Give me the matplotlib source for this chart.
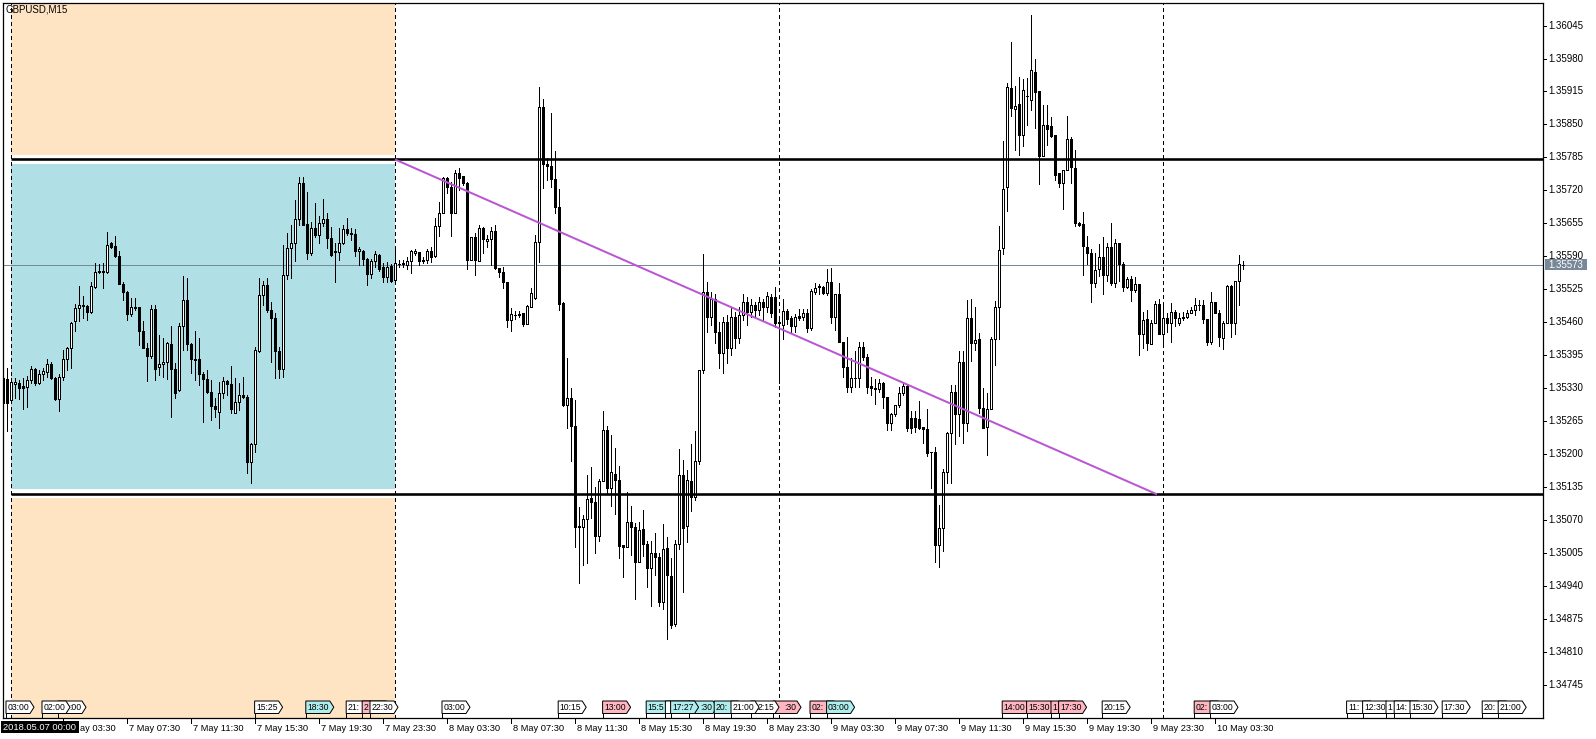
import matplotlib
matplotlib.use("Agg")
import matplotlib.pyplot as plt
from matplotlib.patches import Rectangle, Polygon
from matplotlib.transforms import blended_transform_factory
import numpy as np

plt.rcParams['font.family'] = ['Liberation Sans', 'DejaVu Sans']

# ---------------- data (GBPUSD M15, bar index 0 = 2018.05.07 00:00) ----------------
first_bar = -2

open_ = [
    1.35351, 1.35348, 1.35306, 1.35338, 1.35340, 1.35334, 1.35332, 1.35347, 1.35368, 1.35340, 1.35358, 1.35363,
    1.35378, 1.35350, 1.35309, 1.35352, 1.35387, 1.35409, 1.35462, 1.35488, 1.35492, 1.35493,
    1.35481, 1.35529, 1.35559, 1.35562, 1.35560, 1.35616, 1.35611, 1.35591, 1.35535, 1.35519,
    1.35477, 1.35489, 1.35490, 1.35442, 1.35410, 1.35393, 1.35486, 1.35372, 1.35378, 1.35382,
    1.35417, 1.35368, 1.35326, 1.35453, 1.35504, 1.35417, 1.35386, 1.35387, 1.35358, 1.35348,
    1.35322, 1.35295, 1.35284, 1.35320, 1.35345, 1.35339, 1.35282, 1.35302, 1.35316, 1.35312,
    1.35184, 1.35220, 1.35403, 1.35514, 1.35534, 1.35485, 1.35468, 1.35404, 1.35368, 1.35554,
    1.35607, 1.35616, 1.35663, 1.35734, 1.35654, 1.35596, 1.35646, 1.35632, 1.35655, 1.35663,
    1.35626, 1.35600, 1.35598, 1.35616, 1.35644, 1.35636, 1.35634, 1.35601, 1.35601, 1.35585,
    1.35555, 1.35580, 1.35593, 1.35570, 1.35550, 1.35571, 1.35543, 1.35575, 1.35574, 1.35573,
    1.35580, 1.35597, 1.35598, 1.35580, 1.35583, 1.35601, 1.35591, 1.35650, 1.35675, 1.35744,
    1.35726, 1.35676, 1.35754, 1.35748, 1.35735, 1.35583, 1.35629, 1.35581, 1.35645, 1.35621,
    1.35625, 1.35640, 1.35568, 1.35559, 1.35540, 1.35465, 1.35474, 1.35475, 1.35478, 1.35456,
    1.35491, 1.35507, 1.35618, 1.35884, 1.35773, 1.35768, 1.35742, 1.35688, 1.35499, 1.35298,
    1.35310, 1.35256, 1.35059, 1.35056, 1.35073, 1.35114, 1.35105, 1.35039, 1.35148, 1.35248,
    1.35133, 1.35162, 1.35150, 1.35021, 1.35018, 1.35066, 1.35056, 1.34988, 1.35052, 1.35024,
    1.34976, 1.35005, 1.34997, 1.34909, 1.35015, 1.34960, 1.34865, 1.35024, 1.35159, 1.35059,
    1.35147, 1.35115, 1.35187, 1.35367, 1.35520, 1.35470, 1.35505, 1.35440, 1.35400, 1.35460,
    1.35410, 1.35470, 1.35430, 1.35475, 1.35500, 1.35480, 1.35495, 1.35485, 1.35500, 1.35490,
    1.35509, 1.35510, 1.35461, 1.35455, 1.35482, 1.35468, 1.35453, 1.35472, 1.35471, 1.35478,
    1.35448, 1.35520, 1.35532, 1.35530, 1.35518, 1.35539, 1.35470, 1.35515, 1.35422, 1.35371,
    1.35333, 1.35351, 1.35350, 1.35411, 1.35391, 1.35334, 1.35330, 1.35329, 1.35340, 1.35312,
    1.35262, 1.35279, 1.35297, 1.35321, 1.35334, 1.35271, 1.35271, 1.35269, 1.35253, 1.35249,
    1.35205, 1.35204, 1.35022, 1.35054, 1.35164, 1.35241, 1.35323, 1.35279, 1.35382, 1.35262,
    1.35468, 1.35419, 1.35428, 1.35292, 1.35254, 1.35289, 1.35428, 1.35491, 1.35606, 1.35726,
    1.35921, 1.35880, 1.35890, 1.35829, 1.35906, 1.35899, 1.35954, 1.35915, 1.35788, 1.35849,
    1.35846, 1.35829, 1.35754, 1.35734, 1.35761, 1.35821, 1.35765, 1.35656, 1.35654, 1.35609,
    1.35596, 1.35538, 1.35566, 1.35589, 1.35553, 1.35608, 1.35538, 1.35617, 1.35574, 1.35530,
    1.35545, 1.35524, 1.35535, 1.35436, 1.35466, 1.35417, 1.35459, 1.35496, 1.35436, 1.35468,
    1.35459, 1.35481, 1.35459, 1.35468, 1.35470, 1.35479, 1.35484, 1.35494, 1.35494, 1.35466,
    1.35422, 1.35501, 1.35479, 1.35430, 1.35459, 1.35531, 1.35458, 1.35541, 1.35573,
]

high_ = [
    1.35370, 1.35370, 1.35350, 1.35351, 1.35347, 1.35351, 1.35355, 1.35374, 1.35370, 1.35366, 1.35370, 1.35387,
    1.35381, 1.35353, 1.35358, 1.35406, 1.35412, 1.35460, 1.35496, 1.35531, 1.35511, 1.35494,
    1.35540, 1.35577, 1.35575, 1.35577, 1.35639, 1.35619, 1.35630, 1.35601, 1.35540, 1.35521,
    1.35508, 1.35508, 1.35491, 1.35462, 1.35419, 1.35494, 1.35494, 1.35435, 1.35429, 1.35422,
    1.35452, 1.35380, 1.35458, 1.35552, 1.35547, 1.35420, 1.35442, 1.35429, 1.35363, 1.35366,
    1.35347, 1.35311, 1.35343, 1.35353, 1.35347, 1.35373, 1.35350, 1.35340, 1.35353, 1.35317,
    1.35222, 1.35412, 1.35547, 1.35542, 1.35548, 1.35501, 1.35478, 1.35412, 1.35613, 1.35636,
    1.35652, 1.35701, 1.35747, 1.35746, 1.35716, 1.35657, 1.35696, 1.35670, 1.35703, 1.35676,
    1.35648, 1.35616, 1.35646, 1.35652, 1.35665, 1.35646, 1.35644, 1.35609, 1.35603, 1.35586,
    1.35585, 1.35601, 1.35595, 1.35577, 1.35578, 1.35575, 1.35606, 1.35583, 1.35583, 1.35589,
    1.35602, 1.35605, 1.35599, 1.35589, 1.35605, 1.35609, 1.35665, 1.35698, 1.35747, 1.35746,
    1.35737, 1.35760, 1.35765, 1.35748, 1.35737, 1.35628, 1.35636, 1.35651, 1.35647, 1.35633,
    1.35647, 1.35651, 1.35568, 1.35570, 1.35540, 1.35489, 1.35483, 1.35483, 1.35478, 1.35495,
    1.35527, 1.35633, 1.35924, 1.35900, 1.35783, 1.35872, 1.35798, 1.35722, 1.35500, 1.35390,
    1.35330, 1.35306, 1.35096, 1.35080, 1.35160, 1.35174, 1.35136, 1.35151, 1.35285, 1.35255,
    1.35238, 1.35212, 1.35176, 1.35021, 1.35125, 1.35098, 1.35064, 1.35066, 1.35090, 1.35028,
    1.35028, 1.35045, 1.35005, 1.35063, 1.35036, 1.34996, 1.35031, 1.35211, 1.35189, 1.35169,
    1.35220, 1.35246, 1.35367, 1.35595, 1.35540, 1.35520, 1.35515, 1.35460, 1.35470, 1.35475,
    1.35490, 1.35480, 1.35490, 1.35515, 1.35510, 1.35505, 1.35500, 1.35510, 1.35505, 1.35520,
    1.35516, 1.35530, 1.35470, 1.35505, 1.35487, 1.35472, 1.35476, 1.35487, 1.35487, 1.35487,
    1.35526, 1.35537, 1.35535, 1.35532, 1.35566, 1.35568, 1.35515, 1.35537, 1.35422, 1.35431,
    1.35389, 1.35403, 1.35421, 1.35422, 1.35398, 1.35352, 1.35349, 1.35349, 1.35342, 1.35312,
    1.35282, 1.35297, 1.35332, 1.35342, 1.35336, 1.35285, 1.35285, 1.35304, 1.35253, 1.35290,
    1.35205, 1.35214, 1.35100, 1.35170, 1.35244, 1.35336, 1.35336, 1.35404, 1.35404, 1.35504,
    1.35505, 1.35490, 1.35438, 1.35330, 1.35320, 1.35431, 1.35503, 1.35650, 1.35817, 1.35932,
    1.36013, 1.35925, 1.35943, 1.35940, 1.35941, 1.36066, 1.35980, 1.35915, 1.35888, 1.35888,
    1.35865, 1.35829, 1.35754, 1.35761, 1.35866, 1.35826, 1.35799, 1.35657, 1.35678, 1.35630,
    1.35604, 1.35596, 1.35614, 1.35629, 1.35616, 1.35656, 1.35625, 1.35617, 1.35578, 1.35549,
    1.35551, 1.35550, 1.35535, 1.35481, 1.35485, 1.35465, 1.35502, 1.35506, 1.35495, 1.35478,
    1.35498, 1.35485, 1.35478, 1.35481, 1.35485, 1.35491, 1.35507, 1.35504, 1.35504, 1.35466,
    1.35520, 1.35501, 1.35484, 1.35462, 1.35534, 1.35534, 1.35541, 1.35593, 1.35580,
]

low_ = [
    1.35290, 1.35245, 1.35301, 1.35311, 1.35309, 1.35289, 1.35294, 1.35340, 1.35337, 1.35338, 1.35347, 1.35353,
    1.35348, 1.35306, 1.35286, 1.35347, 1.35366, 1.35370, 1.35442, 1.35462, 1.35468, 1.35464,
    1.35478, 1.35527, 1.35557, 1.35527, 1.35557, 1.35606, 1.35588, 1.35535, 1.35504, 1.35465,
    1.35473, 1.35485, 1.35416, 1.35409, 1.35345, 1.35389, 1.35347, 1.35357, 1.35353, 1.35348,
    1.35274, 1.35311, 1.35324, 1.35406, 1.35406, 1.35360, 1.35347, 1.35337, 1.35263, 1.35320,
    1.35267, 1.35274, 1.35251, 1.35311, 1.35317, 1.35281, 1.35281, 1.35288, 1.35311, 1.35163,
    1.35144, 1.35205, 1.35401, 1.35494, 1.35481, 1.35381, 1.35350, 1.35350, 1.35352, 1.35545,
    1.35547, 1.35580, 1.35652, 1.35652, 1.35585, 1.35593, 1.35628, 1.35616, 1.35650, 1.35606,
    1.35591, 1.35540, 1.35582, 1.35615, 1.35632, 1.35623, 1.35591, 1.35573, 1.35573, 1.35534,
    1.35547, 1.35570, 1.35562, 1.35539, 1.35540, 1.35540, 1.35540, 1.35570, 1.35570, 1.35566,
    1.35558, 1.35592, 1.35573, 1.35576, 1.35576, 1.35579, 1.35588, 1.35630, 1.35675, 1.35714,
    1.35630, 1.35676, 1.35720, 1.35730, 1.35565, 1.35583, 1.35554, 1.35581, 1.35597, 1.35608,
    1.35573, 1.35566, 1.35550, 1.35528, 1.35451, 1.35442, 1.35467, 1.35471, 1.35453, 1.35456,
    1.35490, 1.35505, 1.35579, 1.35725, 1.35740, 1.35726, 1.35675, 1.35484, 1.35296, 1.35252,
    1.35186, 1.35018, 1.34947, 1.34982, 1.34986, 1.35075, 1.35006, 1.35029, 1.35148, 1.35121,
    1.35097, 1.35083, 1.34995, 1.34958, 1.35018, 1.35002, 1.34914, 1.34988, 1.34999, 1.34938,
    1.34901, 1.34961, 1.34900, 1.34895, 1.34835, 1.34858, 1.34861, 1.35013, 1.34929, 1.35027,
    1.35089, 1.35110, 1.35180, 1.35360, 1.35440, 1.35455, 1.35420, 1.35370, 1.35360, 1.35380,
    1.35395, 1.35410, 1.35420, 1.35465, 1.35455, 1.35470, 1.35470, 1.35475, 1.35465, 1.35480,
    1.35470, 1.35451, 1.35340, 1.35428, 1.35456, 1.35439, 1.35440, 1.35464, 1.35465, 1.35440,
    1.35445, 1.35516, 1.35515, 1.35515, 1.35514, 1.35458, 1.35444, 1.35422, 1.35352, 1.35323,
    1.35322, 1.35333, 1.35333, 1.35386, 1.35321, 1.35317, 1.35299, 1.35322, 1.35292, 1.35247,
    1.35248, 1.35276, 1.35293, 1.35316, 1.35245, 1.35241, 1.35244, 1.35250, 1.35223, 1.35196,
    1.35133, 1.34988, 1.34978, 1.35010, 1.35143, 1.35143, 1.35220, 1.35236, 1.35223, 1.35245,
    1.35383, 1.35405, 1.35282, 1.35251, 1.35199, 1.35289, 1.35376, 1.35428, 1.35594, 1.35680,
    1.35867, 1.35799, 1.35790, 1.35808, 1.35849, 1.35878, 1.35843, 1.35732, 1.35788, 1.35809,
    1.35825, 1.35740, 1.35727, 1.35683, 1.35761, 1.35735, 1.35650, 1.35650, 1.35553, 1.35575,
    1.35500, 1.35530, 1.35551, 1.35516, 1.35541, 1.35533, 1.35530, 1.35541, 1.35521, 1.35528,
    1.35502, 1.35520, 1.35395, 1.35410, 1.35406, 1.35417, 1.35459, 1.35436, 1.35415, 1.35441,
    1.35422, 1.35452, 1.35455, 1.35465, 1.35468, 1.35479, 1.35474, 1.35484, 1.35458, 1.35416,
    1.35418, 1.35479, 1.35414, 1.35408, 1.35459, 1.35432, 1.35436, 1.35494, 1.35566,
]

close_ = [
    1.35300, 1.35301, 1.35342, 1.35342, 1.35330, 1.35331, 1.35347, 1.35368, 1.35340, 1.35358, 1.35364, 1.35378,
    1.35350, 1.35309, 1.35352, 1.35387, 1.35409, 1.35458, 1.35488, 1.35494, 1.35494, 1.35481,
    1.35531, 1.35560, 1.35562, 1.35560, 1.35613, 1.35609, 1.35590, 1.35535, 1.35519, 1.35477,
    1.35490, 1.35490, 1.35442, 1.35410, 1.35393, 1.35486, 1.35368, 1.35378, 1.35382, 1.35419,
    1.35368, 1.35320, 1.35453, 1.35504, 1.35417, 1.35387, 1.35387, 1.35358, 1.35348, 1.35322,
    1.35295, 1.35289, 1.35320, 1.35345, 1.35339, 1.35289, 1.35302, 1.35316, 1.35312, 1.35184,
    1.35220, 1.35406, 1.35514, 1.35534, 1.35485, 1.35468, 1.35404, 1.35368, 1.35554, 1.35607,
    1.35616, 1.35663, 1.35734, 1.35652, 1.35596, 1.35646, 1.35632, 1.35655, 1.35663, 1.35626,
    1.35593, 1.35598, 1.35616, 1.35644, 1.35636, 1.35634, 1.35600, 1.35604, 1.35585, 1.35555,
    1.35580, 1.35594, 1.35565, 1.35550, 1.35570, 1.35542, 1.35576, 1.35575, 1.35576, 1.35581,
    1.35600, 1.35601, 1.35580, 1.35583, 1.35601, 1.35589, 1.35650, 1.35675, 1.35744, 1.35726,
    1.35676, 1.35754, 1.35744, 1.35735, 1.35583, 1.35628, 1.35583, 1.35645, 1.35625, 1.35625,
    1.35640, 1.35568, 1.35559, 1.35540, 1.35465, 1.35476, 1.35475, 1.35476, 1.35456, 1.35492,
    1.35517, 1.35618, 1.35884, 1.35773, 1.35768, 1.35742, 1.35688, 1.35497, 1.35298, 1.35310,
    1.35256, 1.35057, 1.35056, 1.35072, 1.35111, 1.35106, 1.35039, 1.35148, 1.35248, 1.35133,
    1.35164, 1.35150, 1.35020, 1.35018, 1.35066, 1.35056, 1.34988, 1.35051, 1.35024, 1.34976,
    1.35005, 1.34997, 1.34909, 1.35013, 1.34962, 1.34863, 1.35024, 1.35159, 1.35055, 1.35149,
    1.35115, 1.35187, 1.35367, 1.35520, 1.35470, 1.35505, 1.35440, 1.35400, 1.35460, 1.35410,
    1.35470, 1.35430, 1.35475, 1.35500, 1.35480, 1.35495, 1.35485, 1.35500, 1.35490, 1.35512,
    1.35478, 1.35458, 1.35458, 1.35482, 1.35467, 1.35453, 1.35470, 1.35469, 1.35478, 1.35448,
    1.35522, 1.35528, 1.35529, 1.35517, 1.35539, 1.35470, 1.35515, 1.35422, 1.35371, 1.35333,
    1.35351, 1.35350, 1.35411, 1.35391, 1.35333, 1.35330, 1.35329, 1.35340, 1.35312, 1.35262,
    1.35279, 1.35297, 1.35321, 1.35334, 1.35251, 1.35252, 1.35253, 1.35251, 1.35249, 1.35202,
    1.35204, 1.35022, 1.35054, 1.35164, 1.35241, 1.35323, 1.35279, 1.35382, 1.35262, 1.35468,
    1.35419, 1.35426, 1.35292, 1.35251, 1.35289, 1.35427, 1.35491, 1.35602, 1.35722, 1.35923,
    1.35882, 1.35886, 1.35829, 1.35918, 1.35906, 1.35957, 1.35913, 1.35788, 1.35849, 1.35841,
    1.35827, 1.35750, 1.35734, 1.35761, 1.35821, 1.35767, 1.35656, 1.35652, 1.35610, 1.35596,
    1.35538, 1.35564, 1.35589, 1.35553, 1.35608, 1.35538, 1.35616, 1.35574, 1.35530, 1.35545,
    1.35524, 1.35535, 1.35436, 1.35465, 1.35420, 1.35459, 1.35496, 1.35436, 1.35468, 1.35459,
    1.35481, 1.35468, 1.35468, 1.35471, 1.35479, 1.35484, 1.35494, 1.35494, 1.35466, 1.35422,
    1.35501, 1.35479, 1.35432, 1.35459, 1.35531, 1.35459, 1.35541, 1.35574, 1.35573,
]

# horizontal levels, zone, trendline, current price
level_upper = 1.35781
level_lower = 1.35121
zone_blue = (1.35132, 1.35772)
zone_orange_top = 1.35790
zone_orange_bottom = 1.35113
zone_bars = (0, 96)
trend_bars = (96, 286.5)
trend_prices = (1.35781, 1.35121)
current_price = 1.35573
day_separators = [0, 96, 192, 288]

price_ticks = [1.36045, 1.35980, 1.35915, 1.35850, 1.35785, 1.35720, 1.35655, 1.35590,
               1.35525, 1.35460, 1.35395, 1.35330, 1.35265, 1.35200, 1.35135, 1.35070,
               1.35005, 1.34940, 1.34875, 1.34810, 1.34745]
price_labels = ["%.5f" % p for p in price_ticks]

time_tick_bars = [13, 29, 45, 61, 77, 93, 109, 125, 141, 157, 173, 189, 205, 221, 237, 253, 269, 285, 301]
time_tick_labels = ["7 May 03:30", "7 May 07:30", "7 May 11:30", "7 May 15:30", "7 May 19:30", "7 May 23:30",
                    "8 May 03:30", "8 May 07:30", "8 May 11:30", "8 May 15:30", "8 May 19:30", "8 May 23:30",
                    "9 May 03:30", "9 May 07:30", "9 May 11:30", "9 May 15:30", "9 May 19:30", "9 May 23:30",
                    "10 May 03:30"]
first_visible_date = "2018.05.07 00:00"

# calendar event markers (position in bars, visible label, kind, text alignment) -- list order = drawing order
event_pos = [-1.25, 11.75, 7.75, 60.9, 73.7, 83.8, 87.8, 89.75, 107.75, 136.8, 147.9,
             158.8, 163.6, 169.5, 164.9, 175.8, 190.5, 185.0, 180.0, 199.75, 203.9,
             247.8, 253.9, 260.0, 261.9, 272.8, 295.8, 299.75, 333.9, 337.9, 343.75,
             345.8, 349.75, 357.8, 367.8, 371.8]
event_labels = ["03:00", ":00", "02:00", "15:25", "18:30", "21:", "2", "22:30", "03:00", "10:15", "13:00",
                "15:5", "", ":30", "17:27", "20:", ":30", "2:15", "21:00", "02:", "03:00",
                "14:00", "15:30", "1", "17:30", "20:15", "02:", "03:00", "11:", "12:30", "1",
                "14:", "15:30", "17:30", "20:", "21:00"]
event_kind = ["w", "w", "w", "w", "c", "w", "p", "w", "w", "w", "p",
              "c", "w", "c", "c", "c", "p", "w", "w", "p", "c",
              "p", "p", "p", "p", "w", "p", "w", "w", "w", "w",
              "w", "w", "w", "w", "w"]
event_align = ["c", "r", "c", "c", "c", "l", "l", "c", "c", "c", "c",
               "l", "l", "r", "c", "l", "r", "r", "c", "l", "c",
               "c", "c", "l", "c", "c", "l", "c", "l", "c", "l",
               "l", "c", "c", "l", "c"]
kind_color = {"w": "white", "p": "#FFB6C1", "c": "#AFEEEE"}

# ---------------- figure ----------------
W, H = 1596, 739
fig = plt.figure(figsize=(W / 100, H / 100), dpi=100)
fig.patch.set_facecolor("white")
ax = fig.add_axes([3 / W, (H - 718) / H, 1540 / W, 715 / H])
ax.set_xlim(-2, 383)
ax.set_ylim(1.346801, 1.360894)
ax.set_xticks([])
ax.set_yticks([])
for s in ax.spines.values():
    s.set_linewidth(0.9)
    s.set_color("black")

ymin, ymax = ax.get_ylim()
px = 1.0 / 100 * 72  # 1 pixel in points

# zones
ax.add_patch(Rectangle((zone_bars[0], zone_orange_top), zone_bars[1] - zone_bars[0], ymax - zone_orange_top,
                       facecolor="#FFE4C4", edgecolor="none", zorder=0))
ax.add_patch(Rectangle((zone_bars[0], ymin), zone_bars[1] - zone_bars[0], zone_orange_bottom - ymin,
                       facecolor="#FFE4C4", edgecolor="none", zorder=0))
ax.add_patch(Rectangle((zone_bars[0], zone_blue[0]), zone_bars[1] - zone_bars[0], zone_blue[1] - zone_blue[0],
                       facecolor="#B0E0E6", edgecolor="none", zorder=0))

# day separators
for d in day_separators:
    ax.axvline(d, color="black", lw=px, ls=(0, (3, 3)), zorder=1, antialiased=False)

# current price line
ax.axhline(current_price, color="#778899", lw=px, zorder=2, antialiased=False)

# candles
xs = np.arange(first_bar, first_bar + len(open_))
for x, o, h, l, c in zip(xs, open_, high_, low_, close_):
    top, bot = max(o, c), min(o, c)
    ax.vlines(x, min(l, bot), max(h, top), color="black", lw=px, zorder=4, antialiased=False)
    ax.add_patch(Rectangle((x - 0.25, bot), 0.5, top - bot,
                           facecolor="white" if c >= o else "black",
                           edgecolor="black", lw=px, zorder=5, antialiased=False))

# horizontal levels
ax.hlines([level_upper, level_lower], zone_bars[0], 383, color="black", lw=2.6 * px, zorder=6)
# trendline
ax.plot(trend_bars, trend_prices, color="#BA55D3", lw=2 * px, zorder=6, solid_capstyle="butt")

# event markers
txa = blended_transform_factory(ax.transData, ax.transAxes)
yb, yt = 4.5 / 715, 17 / 715
bw, tip = 6.0, 1.0
for k, (pos, lab, kd, al) in enumerate(zip(event_pos, event_labels, event_kind, event_align)):
    z = 10 + 2 * k
    poly = Polygon([(pos, yb), (pos + bw, yb), (pos + bw + tip, (yb + yt) / 2), (pos + bw, yt), (pos, yt)],
                   closed=True, facecolor=kind_color[kd], edgecolor="black", lw=px, transform=txa, zorder=z)
    ax.add_patch(poly)
    ax.plot([pos, pos], [0, yb], transform=txa, color="black", lw=px, zorder=z)
    if al == "c":
        tx, ha = pos + bw / 2 + 0.1, "center"
    elif al == "l":
        tx, ha = pos + 0.35, "left"
    else:
        tx, ha = pos + bw - 0.15, "right"
    ax.text(tx, (yb + yt) / 2, lab, transform=txa, ha=ha, va="center", fontsize=6.2, zorder=z + 1)

# time axis labels (the first one is partly hidden behind the highlighted start date)
for k, (b, lab) in enumerate(zip(time_tick_bars, time_tick_labels)):
    ax.plot([b, b], [0, -5 / 715], transform=txa, color="black", lw=px, clip_on=False)
    if k == 0:
        fig.text(80 / W, (H - 728.5) / H, lab[3:], ha="left", va="center", fontsize=6.7)
    else:
        ax.text(b + 0.4, -10.5 / 715, lab, transform=txa, ha="left", va="center", fontsize=6.7, clip_on=False)

# price axis labels
tay = blended_transform_factory(ax.transAxes, ax.transData)
for p, lab in zip(price_ticks, price_labels):
    ax.plot([1, 1 + 3 / 1540], [p, p], transform=tay, color="black", lw=px, clip_on=False)
    ax.text(1 + 5 / 1540, p, lab, transform=tay, ha="left", va="center", fontsize=7.0, clip_on=False)

# current price tag
ppx = (ymax - ymin) / 715
ax.add_patch(Rectangle((1 + 2 / 1540, current_price - 5.5 * ppx), 42 / 1540, 11 * ppx, transform=tay,
                       facecolor="#778899", edgecolor="none", clip_on=False, zorder=20))
ax.text(1 + 5 / 1540, current_price, "%.5f" % current_price, transform=tay, ha="left", va="center",
        fontsize=7.0, color="white", clip_on=False, zorder=21)

# symbol caption
fig.text(6 / W, 1 - 10 / H, "GBPUSD,M15", fontsize=7.0, ha="left", va="center")

# highlighted date at start
fig.add_artist(Rectangle((1 / W, (H - 733) / H), 78 / W, 12 / H, transform=fig.transFigure,
                         facecolor="black", edgecolor="none", zorder=5))
fig.text(3 / W, (H - 727) / H, first_visible_date, color="white", fontsize=6.7, ha="left", va="center",
         zorder=6)

fig.savefig("out.png", dpi=100, facecolor="white")
